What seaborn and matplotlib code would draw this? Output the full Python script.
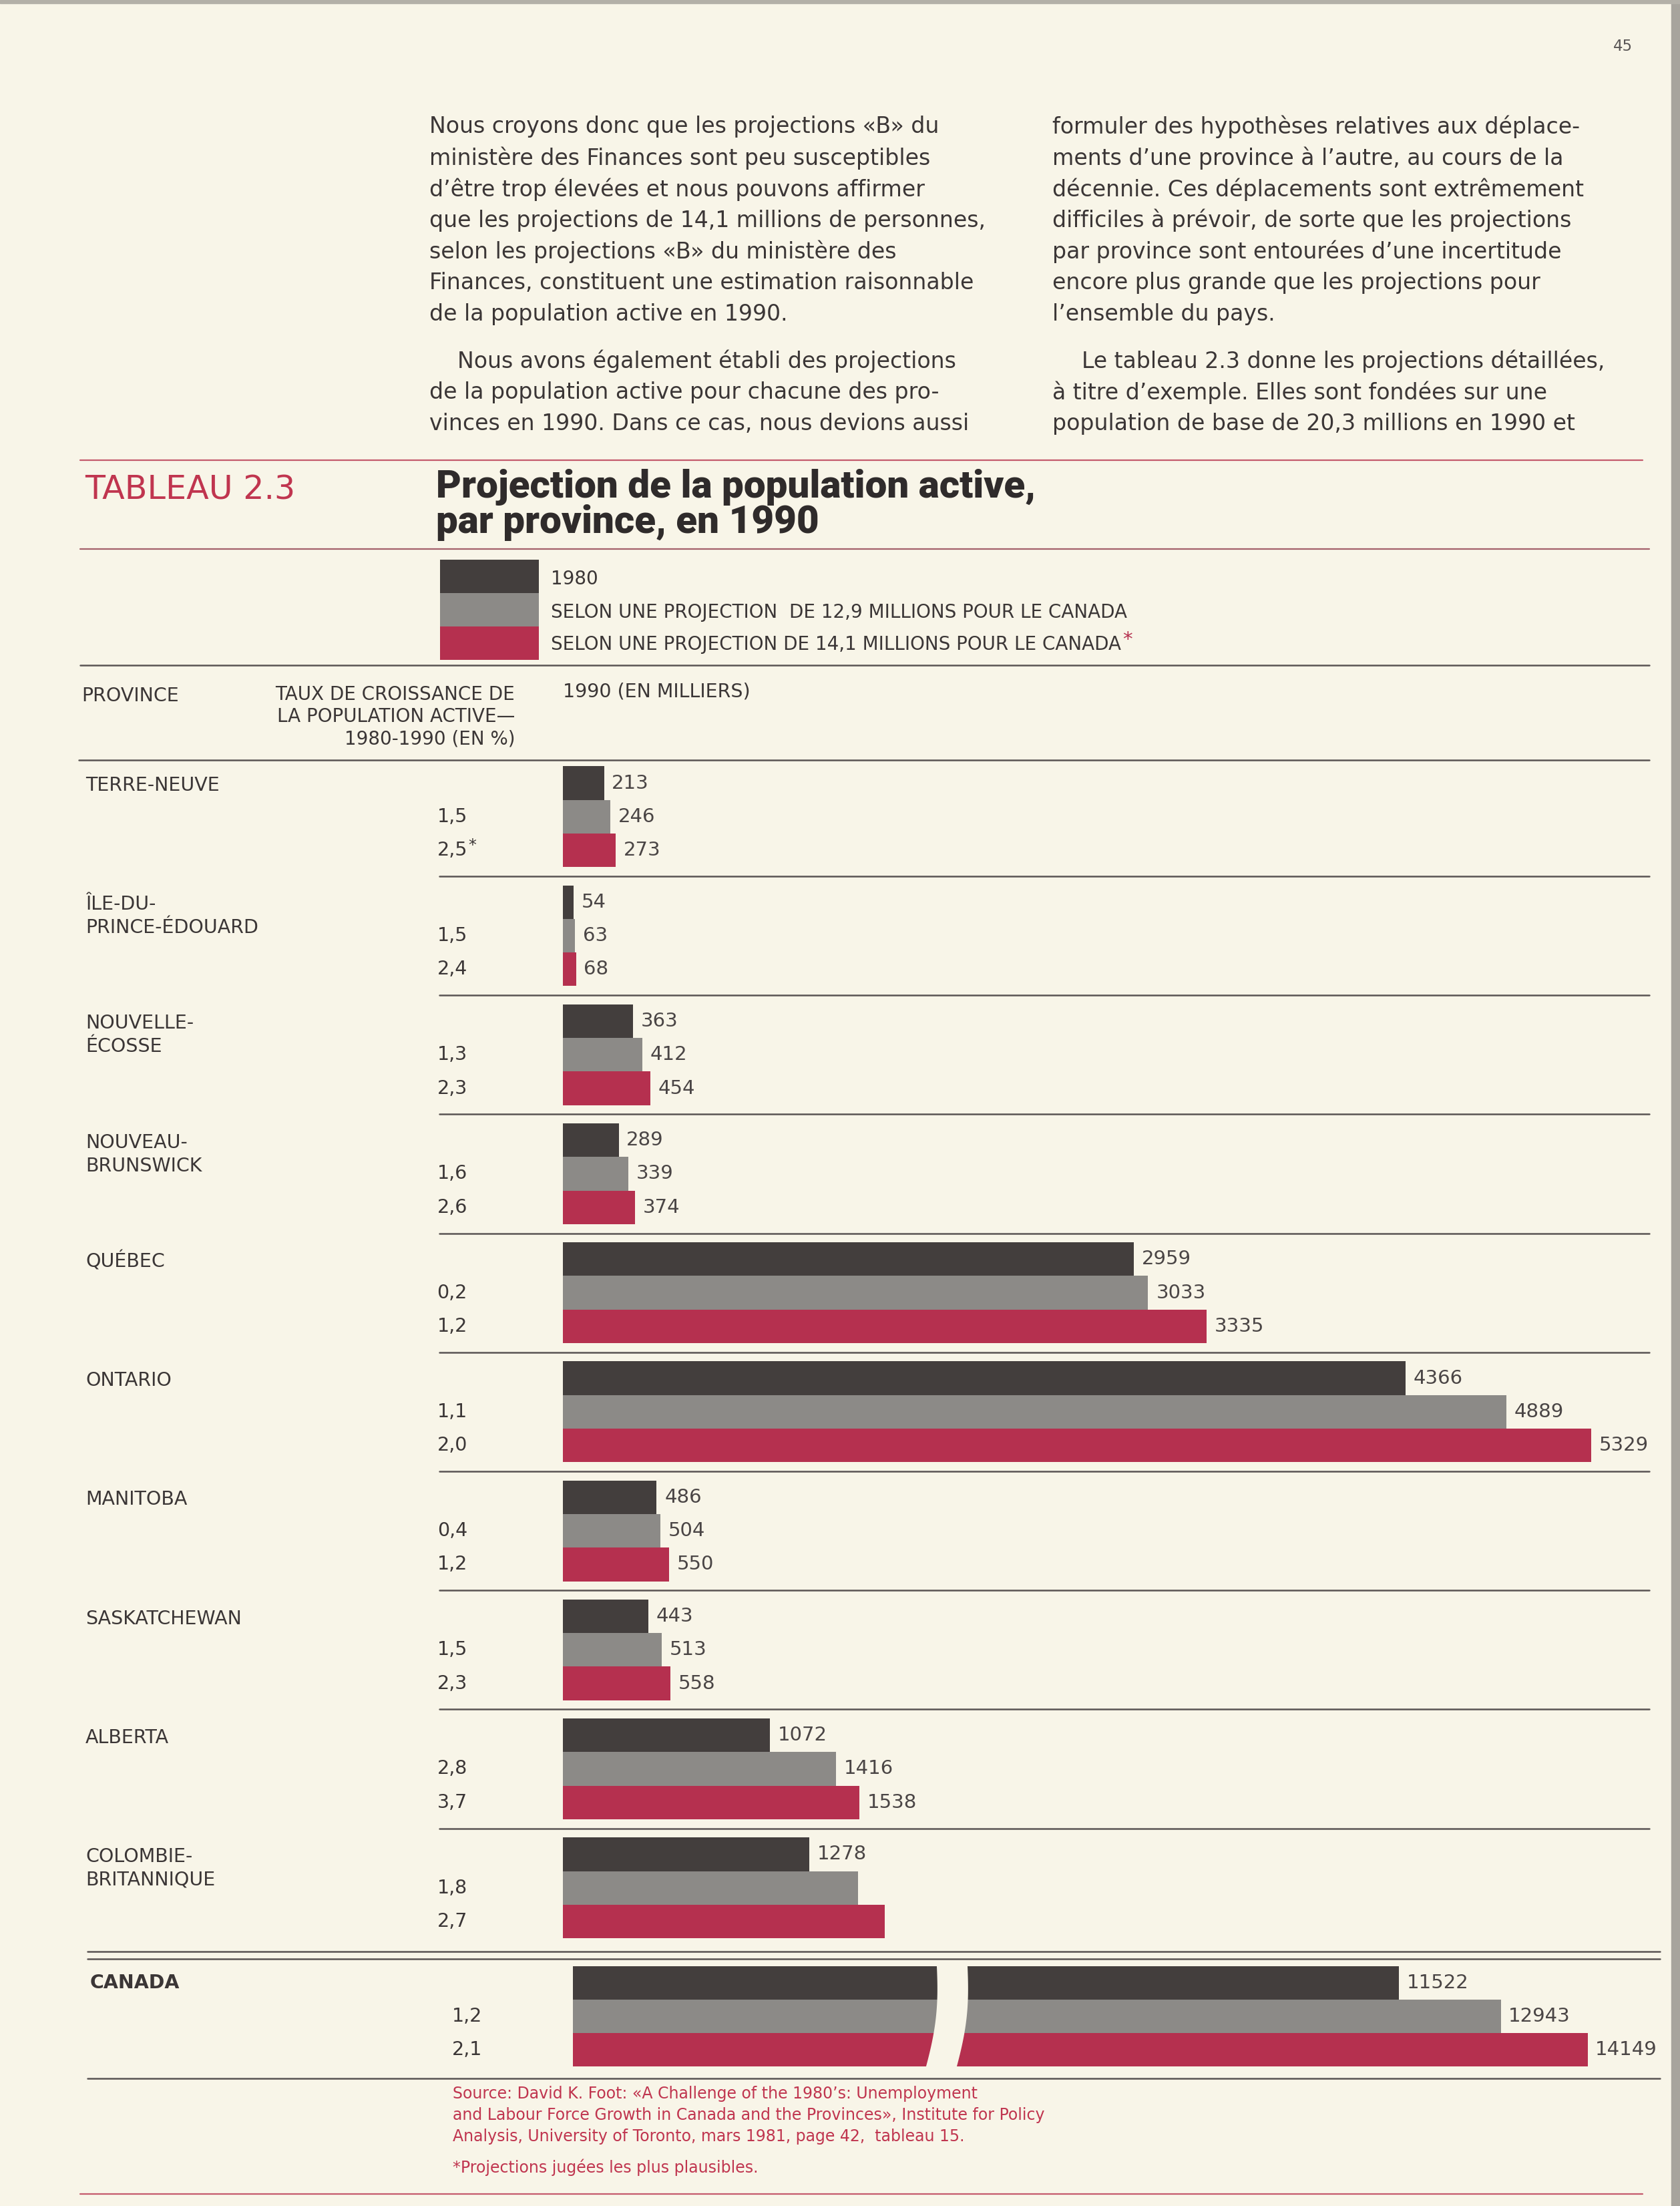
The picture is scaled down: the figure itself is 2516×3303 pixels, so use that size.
import matplotlib
matplotlib.use('Agg')
import matplotlib.pyplot as plt
from matplotlib.patches import Rectangle
from matplotlib.lines import Line2D
from matplotlib.transforms import blended_transform_factory
import numpy as np
import pandas as pd
import seaborn as sns

# --- données (tableau 2.3) ---
provinces = ['TERRE-NEUVE', 'ÎLE-DU-\nPRINCE-ÉDOUARD', 'NOUVELLE-\nÉCOSSE', 'NOUVEAU-\nBRUNSWICK',
             'QUÉBEC', 'ONTARIO', 'MANITOBA', 'SASKATCHEWAN', 'ALBERTA', 'COLOMBIE-\nBRITANNIQUE']
series = ['1980', 'proj. 12,9 M', 'proj. 14,1 M']
pop_1980 = [213, 54, 363, 289, 2959, 4366, 486, 443, 1072, 1278]
pop_129 = [246, 63, 412, 339, 3033, 4889, 504, 513, 1416, 1528]
pop_141 = [273, 68, 454, 374, 3335, 5329, 550, 558, 1538, 1668]
# l'original n'imprime pas les deux projections de la C.-B.
label_1980 = [True] * 10
label_129 = [True] * 9 + [False]
label_141 = [True] * 9 + [False]
taux_129 = ['1,5', '1,5', '1,3', '1,6', '0,2', '1,1', '0,4', '1,5', '2,8', '1,8']
taux_141 = ['2,5*', '2,4', '2,3', '2,6', '1,2', '2,0', '1,2', '2,3', '3,7', '2,7']
canada = [11522, 12943, 14149]
taux_canada = ['1,2', '2,1']
legend_labels = ['1980', 'SELON UNE PROJECTION  DE 12,9 MILLIONS POUR LE CANADA',
                 'SELON UNE PROJECTION DE 14,1 MILLIONS POUR LE CANADA']

BG = '#f8f5e8'
INK = '#3b3636'
DARK = '#433e3d'
GREY = '#8c8a87'
RED = '#b5304f'
RED_TXT = '#c0354f'
LINE = '#5a5454'
RED_LINE = '#c45a6c'
colors = [DARK, GREY, RED]

sns.set_theme(style='white')
plt.rcParams['font.family'] = ['DejaVu Sans']

W, H = 2516, 3303
fig = plt.figure(figsize=(W / 100, H / 100), dpi=100, facecolor=BG)


def fx(px):
    return px / W


def fy(py):
    return 1 - py / H


def hline(x0, x1, y, color=LINE, lw=1.8):
    fig.add_artist(Line2D([fx(x0), fx(x1)], [fy(y), fy(y)], transform=fig.transFigure,
                          color=color, lw=lw))


def ftext(x, y, s, **kw):
    kw.setdefault('color', INK)
    kw.setdefault('va', 'center')
    return fig.text(fx(x), fy(y), s, **kw)


renderer = fig.canvas.get_renderer()


def fit_width(t, target):
    w = t.get_window_extent(renderer).width
    t.set_fontsize(t.get_fontsize() * target / w)
    return t.get_fontsize()


# bords du scan
fig.patches.append(Rectangle((fx(2503), 0), 13 / W, 1, transform=fig.transFigure,
                             color='#a7a49d', zorder=0))
fig.patches.append(Rectangle((0, fy(5)), 1, 5 / H, transform=fig.transFigure,
                             color='#b3b0a8', zorder=0))

ftext(2430, 70, '45', ha='center', fontsize=16.5, color='#5a5656')

# --- texte courant ---
col_left = ['Nous croyons donc que les projections «B» du',
            'ministère des Finances sont peu susceptibles',
            'd’être trop élevées et nous pouvons affirmer',
            'que les projections de 14,1 millions de personnes,',
            'selon les projections «B» du ministère des',
            'Finances, constituent une estimation raisonnable',
            'de la population active en 1990.']
col_left2 = ['Nous avons également établi des projections',
             'de la population active pour chacune des pro-',
             'vinces en 1990. Dans ce cas, nous devions aussi']
col_right = ['formuler des hypothèses relatives aux déplace-',
             'ments d’une province à l’autre, au cours de la',
             'décennie. Ces déplacements sont extrêmement',
             'difficiles à prévoir, de sorte que les projections',
             'par province sont entourées d’une incertitude',
             'encore plus grande que les projections pour',
             'l’ensemble du pays.']
col_right2 = ['Le tableau 2.3 donne les projections détaillées,',
              'à titre d’exemple. Elles sont fondées sur une',
              'population de base de 20,3 millions en 1990 et']

t0 = ftext(643, 190, col_left[0], fontsize=21)
body_fs = fit_width(t0, 764)
for k, s in enumerate(col_left[1:], start=1):
    ftext(643, 190 + 46.7 * k, s, fontsize=body_fs)
for k, s in enumerate(col_right):
    ftext(1576, 190 + 46.7 * k, s, fontsize=body_fs)
for k, s in enumerate(col_left2):
    ftext(643 + (42 if k == 0 else 0), 541 + 46.7 * k, s, fontsize=body_fs)
for k, s in enumerate(col_right2):
    ftext(1576 + (44 if k == 0 else 0), 541 + 46.7 * k, s, fontsize=body_fs)

# --- en-tête du tableau ---
hline(120, 2460, 689, RED_LINE, 1.6)
tt = ftext(127, 747, 'TABLEAU 2.3', va='baseline', fontsize=30, color=RED_TXT)
fit_width(tt, 315)
title_family = ['Liberation Sans Narrow', 'Roboto', 'DejaVu Sans']
ti = ftext(653, 745, 'Projection de la population active,', va='baseline', fontsize=34,
           fontweight='heavy', family=title_family, color='#2f2b2b')
tfs = fit_width(ti, 900)
ftext(653, 798, 'par province, en 1990', va='baseline', fontsize=tfs, fontweight='heavy',
      family=title_family, color='#2f2b2b')
hline(120, 2470, 822, '#a4606a', 1.6)

# légende
for k, c in enumerate(colors):
    fig.patches.append(Rectangle((fx(659), fy(838 + 50 * (k + 1))), 148 / W, 50 / H,
                                 transform=fig.transFigure, color=c, lw=0))
leg_y = [867, 917, 965]
for k, s in enumerate(legend_labels):
    lt = ftext(825, leg_y[k], s, fontsize=20)
bb = lt.get_window_extent(renderer)
fig.text(bb.x1 / W + 0.001, fy(958), '*', fontsize=21, color=RED, va='center')
hline(120, 2470, 996, LINE, 1.8)

ftext(122, 1042, 'PROVINCE', fontsize=20.5)
for k, s in enumerate(['TAUX DE CROISSANCE DE', 'LA POPULATION ACTIVE—', '1980-1990 (EN %)']):
    ftext(771, 1040 + 33 * k, s, ha='right', fontsize=20)
ftext(843, 1035, '1990 (EN MILLIERS)', fontsize=20.5)
hline(118, 2470, 1138, LINE, 1.8)

# --- barres des provinces ---
df = pd.DataFrame({
    'province': provinces * 3,
    'serie': [series[0]] * 10 + [series[1]] * 10 + [series[2]] * 10,
    'valeur': pop_1980 + pop_129 + pop_141,
})
WID = 0.847
X0, X1, Y0, Y1 = 843, 2470, 1138, 2922
XMAX = 5630
ax = fig.add_axes([fx(X0), fy(Y1), (X1 - X0) / W, (Y1 - Y0) / H])
sns.barplot(data=df, y='province', x='valeur', hue='serie', hue_order=series, order=provinces,
            palette=colors, orient='h', width=WID, gap=0, saturation=1, errorbar=None,
            linewidth=0, legend=False, ax=ax)
ax.set_xlim(0, XMAX)
ax.set_ylim(9.535, -0.476)
ax.set_axis_off()

tr = blended_transform_factory(fig.transFigure, ax.transData)
for cont, vals, show in zip(ax.containers, [pop_1980, pop_129, pop_141],
                            [label_1980, label_129, label_141]):
    for bar, v, s in zip(cont, vals, show):
        if s:
            ax.annotate(f'{v}', xy=(bar.get_width(), bar.get_y() + bar.get_height() / 2),
                        xytext=(8.5, 0), textcoords='offset points', va='center', ha='left',
                        fontsize=21, color='#4a4545', annotation_clip=False)

for i, name in enumerate(provinces):
    for j, part in enumerate(name.split('\n')):
        ax.text(fx(128), i - WID / 3 + 0.02 + 0.196 * j, part, transform=tr, va='center',
                fontsize=20.5, color=INK)
    for yy, s in [(i, taux_129[i]), (i + WID / 3, taux_141[i])]:
        ax.text(fx(700), yy, s.rstrip('*'), transform=tr, va='center', ha='right',
                fontsize=20.5, color=INK)
        if s.endswith('*'):
            ax.text(fx(701), yy - 0.04, '*', transform=tr, va='center', ha='left',
                    fontsize=17, color=INK)
    if i < len(provinces) - 1:
        ax.plot([fx(658), fx(2470)], [i + 0.5, i + 0.5], transform=tr, color=LINE,
                lw=1.8, clip_on=False)

hline(131, 2486, 2922, LINE, 1.8)
hline(131, 2486, 2933, LINE, 1.8)

# --- Canada (échelle propre, avec coupure) ---
CX0, CX1, CY0, CY1 = 858, 2486, 2933, 3110
CXMAX = 15158
axc = fig.add_axes([fx(CX0), fy(CY1), (CX1 - CX0) / W, (CY1 - CY0) / H])
dfc = pd.DataFrame({'province': ['CANADA'] * 3, 'serie': series, 'valeur': canada})
sns.barplot(data=dfc, y='province', x='valeur', hue='serie', hue_order=series,
            palette=colors, orient='h', width=WID, gap=0, saturation=1, errorbar=None,
            linewidth=0, legend=False, ax=axc)
axc.set_xlim(0, CXMAX)
axc.set_ylim(0.511, -0.483)
axc.set_axis_off()
for cont, v in zip(axc.containers, canada):
    bar = cont[0]
    axc.annotate(f'{v}', xy=(bar.get_width(), bar.get_y() + bar.get_height() / 2),
                 xytext=(8, 0), textcoords='offset points', va='center', ha='left',
                 fontsize=21, color='#4a4545', annotation_clip=False)

# coupure ondulée
k_px = (CX1 - CX0) / CXMAX
brk = 5065
yy = np.linspace(-0.483, 0.511, 80)
t = (yy + 0.483) / 0.994
left = brk + (-20 * t + 9 * np.sin(np.pi * t)) / k_px
axc.fill_betweenx(yy, left, left + 46 / k_px, color=BG, lw=0, zorder=5)

trc = blended_transform_factory(fig.transFigure, axc.transData)
axc.text(fx(135), -WID / 3, 'CANADA', transform=trc, va='center', fontsize=20.5,
         fontweight='bold', color=INK)
axc.text(fx(722), 0, taux_canada[0], transform=trc, va='center', ha='right', fontsize=20.5, color=INK)
axc.text(fx(722), WID / 3, taux_canada[1], transform=trc, va='center', ha='right', fontsize=20.5, color=INK)

hline(131, 2486, 3112, LINE, 1.8)

# --- source ---
src = ['Source: David K. Foot: «A Challenge of the 1980’s: Unemployment',
       'and Labour Force Growth in Canada and the Provinces», Institute for Policy',
       'Analysis, University of Toronto, mars 1981, page 42,  tableau 15.']
for k, s in enumerate(src):
    ftext(678, 3135 + 32 * k, s, fontsize=17, color=RED_TXT)
ftext(678, 3245, '*Projections jugées les plus plausibles.', fontsize=17, color=RED_TXT)
hline(120, 2460, 3285, RED_LINE, 1.6)

fig.savefig('out.png', dpi=100, facecolor=BG)
